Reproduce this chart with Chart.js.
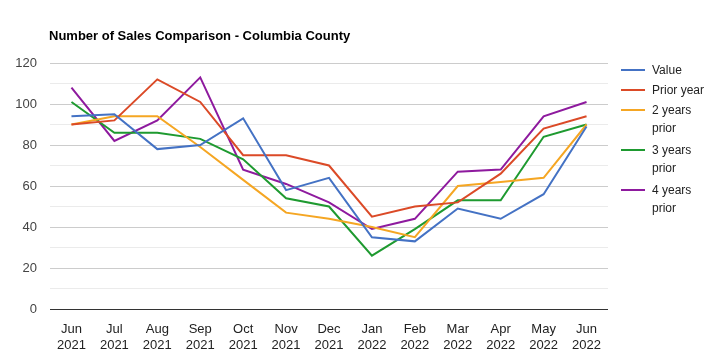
<!DOCTYPE html>
<html><head><meta charset="utf-8">
<script src="https://cdn.jsdelivr.net/npm/chart.js@4/dist/chart.umd.min.js"></script>
<style>
html,body{margin:0;padding:0;background:#fff;}
#wrap{position:relative;width:721px;height:357px;font-family:"Liberation Sans",Arial,sans-serif;}
#title{position:absolute;left:49px;top:28px;font-size:13px;font-weight:bold;color:#000;}
#legend{position:absolute;left:621px;top:0;font-size:12px;color:#222;}
.li{position:absolute;left:0;width:100px;}
.sw{position:absolute;left:0;width:24px;height:2px;}
.tx{position:absolute;left:31px;line-height:18px;white-space:nowrap;}
canvas{position:absolute;left:0;top:0;}
</style></head>
<body><div id="wrap"><canvas id="c" width="721" height="357"></canvas><div id="title">Number of Sales Comparison - Columbia County</div><div id="legend"></div></div>
<script>
const categories = [["Jun","2021"],["Jul","2021"],["Aug","2021"],["Sep","2021"],["Oct","2021"],["Nov","2021"],["Dec","2021"],["Jan","2022"],["Feb","2022"],["Mar","2022"],["Apr","2022"],["May","2022"],["Jun","2022"]];
const value      = [94, 95, 78, 80, 93, 58, 64, 35, 33, 49, 44, 56, 89];
const priorYear  = [90, 92, 112, 101, 75, 75, 70, 45, 50, 52, 66, 88, 94];
const twoYears   = [90, 94, 94, 79, 63, 47, 44, 40, 35, 60, 62, 64, 90];
const threeYears = [101, 86, 86, 83, 73, 54, 50, 26, 39, 53, 53, 84, 90];
const fourYears  = [108, 82, 92, 113, 68, 61, 52, 39, 44, 67, 68, 94, 101];
const seriesNames = [["Value"],["Prior year"],["2 years","prior"],["3 years","prior"],["4 years","prior"]];
const colors = ["#4472c4","#db4a27","#f5a623","#1e9a30","#8e1a9e"];
const allData = [value, priorYear, twoYears, threeYears, fourYears];

const datasets = allData.map((d,i)=>({label: seriesNames[i].join(" "), data:d, borderColor:colors[i], backgroundColor:colors[i], borderWidth:2, pointRadius:0, tension:0, fill:false}));

new Chart(document.getElementById('c'), {
  type:'line',
  data:{labels:categories, datasets},
  options:{
    responsive:false, animation:false,
    layout:{padding:{top:63,right:113,left:0,bottom:0}},
    plugins:{legend:{display:false}, title:{display:false}, tooltip:{enabled:false}},
    scales:{
      x:{offset:true, grid:{display:false}, border:{display:false},
         ticks:{color:"#222", font:{family:"Liberation Sans", size:13}, maxRotation:0, autoSkip:false, padding:5},
         afterFit(s){s.height=48;}},
      y:{min:0,max:120, border:{display:false},
         ticks:{stepSize:10, autoSkip:false, color:"#444", font:{family:"Liberation Sans", size:13}, padding:13,
                callback:(v)=> v%20===0 ? v : ''},
         grid:{color:(ctx)=> ctx.tick.value===0 ? '#333' : (ctx.tick.value%20===0 ? '#cccccc' : '#ebebeb'), lineWidth:1, drawTicks:false},
         afterFit(s){s.width=50;}}
    }
  }
});

// legend
const leg = document.getElementById('legend');
const tops = [61, 81, 101, 141, 181];
seriesNames.forEach((n,i)=>{
  const li=document.createElement('div'); li.className='li'; li.style.top=tops[i]+'px';
  const sw=document.createElement('div'); sw.className='sw'; sw.style.background=colors[i]; sw.style.top='8px';
  const tx=document.createElement('div'); tx.className='tx'; tx.innerHTML=n.join('<br>');
  li.appendChild(sw); li.appendChild(tx); leg.appendChild(li);
});
</script></body></html>
